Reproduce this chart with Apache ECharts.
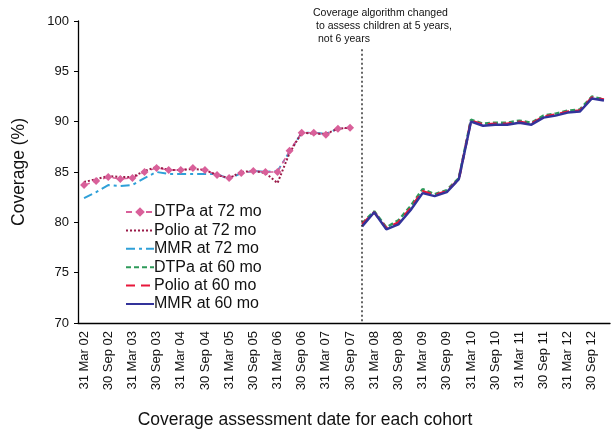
<!DOCTYPE html>
<html>
<head>
<meta charset="utf-8">
<script src="https://cdn.jsdelivr.net/npm/echarts@6/dist/echarts.min.js"></script>
<style>
  html, body { margin: 0; padding: 0; background: #fff; }
  #chart { width: 611px; height: 431px; }
</style>
</head>
<body>
<div id="chart"></div>
<script>
// quarterly assessment dates, Mar 02 .. Dec 12
const quarters = [];
for (let y = 2; y <= 12; y++) {
  const yy = (y < 10 ? "0" : "") + y;
  quarters.push("31 Mar " + yy, "30 Jun " + yy, "30 Sep " + yy, "31 Dec " + yy);
}

// 72 month cohort (Mar 02 .. Sep 07)
const dtpa72 = [83.7, 84.1, 84.5, 84.3, 84.4, 85.0, 85.4, 85.2, 85.2, 85.4, 85.2, 84.7,
  84.4, 84.9, 85.1, 85.0, 85.0, 87.1, 88.9, 88.9, 88.7, 89.3, 89.4];
const polio72 = [84.0, 84.3, 84.6, 84.5, 84.5, 85.1, 85.5, 85.2, 85.2, 85.3, 85.2, 84.7,
  84.4, 85.0, 85.1, 84.9, 83.9, 86.9, 88.9, 88.8, 88.8, 89.3, 89.4];
const mmr72 = [82.4, 83.0, 83.7, 83.6, 83.7, 84.4, 85.0, 84.8, 84.8, 84.8, 84.8, 84.8,
  84.3, 84.9, 85.1, 85.0, 85.1, 87.0, 88.9, 88.9, 88.8, 89.3, 89.4];

// 60 month cohort (Dec 07 .. Dec 12)
const dtpa60 = [79.9, 81.1, 79.5, 80.2, 81.6, 83.3, 82.8, 83.2, 84.4, 90.2, 89.8, 89.9,
  89.9, 90.1, 89.9, 90.6, 90.8, 91.1, 91.2, 92.5, 92.2];
const polio60 = [79.8, 81.0, 79.4, 80.0, 81.4, 83.1, 82.7, 83.1, 84.3, 90.1, 89.7, 89.8,
  89.8, 90.0, 89.8, 90.5, 90.7, 91.0, 91.1, 92.4, 92.2];
const mmr60 = [79.6, 81.0, 79.3, 79.8, 81.2, 82.9, 82.6, 83.0, 84.3, 90.0, 89.6, 89.7,
  89.7, 89.9, 89.7, 90.4, 90.6, 90.9, 91.0, 92.3, 92.1];

const changeDate = "31 Dec 07";

function early(arr) {
  return arr.concat(new Array(quarters.length - arr.length).fill(null));
}
function late(arr) {
  return new Array(quarters.length - arr.length).fill(null).concat(arr);
}

const noMarker = { opacity: 0 };

const myChart = echarts.init(document.getElementById("chart"));
myChart.setOption({
  animation: false,
  textStyle: { fontFamily: "Liberation Sans, Arial, sans-serif" },
  grid: { left: 78, right: 1, top: 21, bottom: 108 },
  legend: {
    orient: "vertical",
    left: 120,
    top: 199,
    itemWidth: 28,
    itemHeight: 12,
    itemGap: 2.4,
    textStyle: { fontSize: 16, color: "#111", lineHeight: 16, padding: [0, 0, 0, -5] },
    data: [
      { name: "DTPa at 72 mo" },
      { name: "Polio at 72 mo", itemStyle: noMarker },
      { name: "MMR at 72 mo", itemStyle: noMarker },
      { name: "DTPa at 60 mo", itemStyle: noMarker },
      { name: "Polio at 60 mo", itemStyle: noMarker },
      { name: "MMR at 60 mo", itemStyle: noMarker }
    ]
  },
  xAxis: {
    type: "category",
    data: quarters,
    boundaryGap: true,
    axisLine: { lineStyle: { color: "#000", width: 1.3 } },
    axisTick: { interval: 0, length: 4, lineStyle: { color: "#000" } },
    axisLabel: { interval: 1, rotate: 90, margin: 8, fontSize: 13, color: "#111" },
    splitLine: { show: false }
  },
  yAxis: {
    type: "value",
    min: 70,
    max: 100,
    interval: 5,
    name: "Coverage (%)",
    nameLocation: "middle",
    nameGap: 50,
    nameTextStyle: { fontSize: 17.5, color: "#111" },
    axisLine: { show: true, lineStyle: { color: "#000", width: 1.3 } },
    axisTick: { show: true, length: 4, lineStyle: { color: "#000" } },
    axisLabel: { fontSize: 13, color: "#111", margin: 9 },
    splitLine: { show: false }
  },
  graphic: [
    { type: "text", x: 313, y: 8, style: { text: "Coverage algorithm changed", fontSize: 10.5, fill: "#111", fontFamily: "Liberation Sans" } },
    { type: "text", x: 316, y: 21, style: { text: "to assess children at 5 years,", fontSize: 10.5, fill: "#111", fontFamily: "Liberation Sans" } },
    { type: "text", x: 318, y: 34, style: { text: "not 6 years", fontSize: 10.5, fill: "#111", fontFamily: "Liberation Sans" } },
    { type: "text", x: 305, y: 420, style: { text: "Coverage assessment date for each cohort", fontSize: 17.5, fill: "#111", align: "center", verticalAlign: "middle", fontFamily: "Liberation Sans" } }
  ],
  series: [
    {
      name: "MMR at 72 mo",
      type: "line",
      data: early(mmr72),
      symbol: "none",
      lineStyle: { color: "#2fa0d8", width: 2, type: [9, 4, 3, 4] },
      itemStyle: { color: "#2fa0d8" },
      markLine: {
        silent: true,
        symbol: "none",
        label: { show: false },
        lineStyle: { color: "#333", width: 1.5, type: [2, 2.5] },
        data: [[{ coord: [changeDate, 97.2] }, { coord: [changeDate, 70] }]]
      }
    },
    {
      name: "DTPa at 72 mo",
      type: "line",
      data: early(dtpa72),
      symbol: "diamond",
      symbolSize: 8,
      lineStyle: { color: "#d9609a", width: 1.5, type: [6, 4] },
      itemStyle: { color: "#d9609a" }
    },
    {
      name: "Polio at 72 mo",
      type: "line",
      data: early(polio72),
      symbol: "none",
      lineStyle: { color: "#9a1a48", width: 2, type: [2, 2] },
      itemStyle: { color: "#9a1a48" }
    },
    {
      name: "DTPa at 60 mo",
      type: "line",
      data: late(dtpa60),
      symbol: "none",
      lineStyle: { color: "#2e9a5a", width: 2.5, type: [5, 3] },
      itemStyle: { color: "#2e9a5a" }
    },
    {
      name: "Polio at 60 mo",
      type: "line",
      data: late(polio60),
      symbol: "none",
      lineStyle: { color: "#e8173a", width: 2.5, type: [9, 6] },
      itemStyle: { color: "#e8173a" }
    },
    {
      name: "MMR at 60 mo",
      type: "line",
      data: late(mmr60),
      symbol: "none",
      lineStyle: { color: "#33339a", width: 2.5 },
      itemStyle: { color: "#33339a" }
    }
  ]
});
</script>
</body>
</html>
